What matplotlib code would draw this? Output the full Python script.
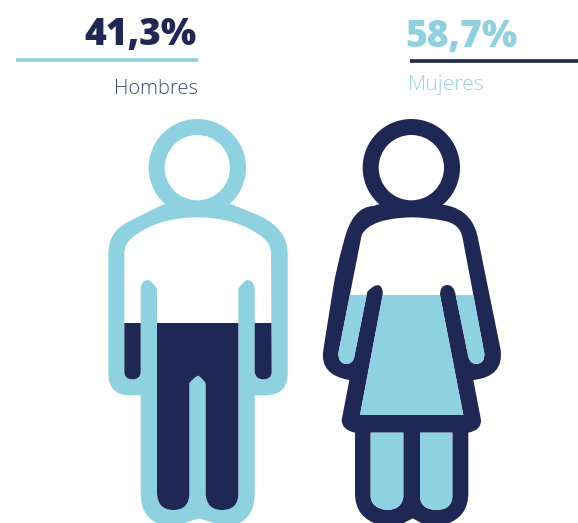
"""
Men / women share pictogram: two outlined figures filled up to a level,
with the percentage and label above each one.
"""

import matplotlib
matplotlib.use("Agg")
import matplotlib.pyplot as plt
from matplotlib.patches import Circle, PathPatch, Rectangle
from matplotlib.path import Path
from matplotlib.transforms import Affine2D

LIGHT = "#8ED2E2"
DARK = "#1F2855"

labels = ["Hombres", "Mujeres"]
shares = ["41,3%", "58,7%"]
# fill level of each figure, pixel row of the picture
fill_levels = [323, 295]

# icon outlines: M move, L line, Q quadratic (control, end), units are 1/3 px
MAN_OUTER = [
    ("M", 205, 283), ("L", 100, 335), ("Q", 40, 365, 40, 430), ("L", 40, 790),
    ("Q", 40, 856, 105, 856), ("L", 137, 856), ("L", 137, 1150),
    ("Q", 137, 1225, 200, 1245), ("L", 250, 1245), ("L", 312, 1225),
    ("L", 375, 1245), ("L", 420, 1245), ("Q", 479, 1225, 479, 1150),
    ("L", 479, 856), ("L", 510, 856), ("Q", 578, 856, 578, 790),
    ("L", 578, 430), ("Q", 578, 360, 500, 320), ("L", 410, 283),
]
MAN_INNER = [
    ("M", 307, 322), ("Q", 190, 322, 115, 380), ("Q", 88, 400, 88, 430),
    ("L", 88, 785), ("Q", 88, 808, 112, 808), ("Q", 137, 808, 137, 785),
    ("L", 137, 535), ("Q", 140, 510, 160, 510), ("Q", 172, 515, 186, 537),
    ("L", 186, 1150), ("Q", 188, 1200, 235, 1200), ("Q", 283, 1200, 283, 1150),
    ("L", 283, 820), ("Q", 295, 803, 309, 797), ("Q", 322, 803, 332, 820),
    ("L", 332, 1150), ("Q", 334, 1200, 381, 1200), ("Q", 430, 1200, 430, 1150),
    ("L", 430, 537), ("Q", 444, 515, 456, 510), ("Q", 476, 510, 479, 535),
    ("L", 479, 785), ("Q", 481, 808, 505, 808), ("Q", 530, 808, 530, 785),
    ("L", 528, 430), ("Q", 528, 400, 500, 380), ("Q", 425, 322, 307, 322),
]
WOMAN_OUTER = [
    ("M", 205, 283), ("L", 190, 288), ("Q", 125, 290, 100, 400), ("Q", 80, 470, 70, 530),
    ("L", 40, 720), ("Q", 28, 795, 118, 810), ("L", 95, 930), ("Q", 95, 960, 135, 968),
    ("L", 135, 1150), ("Q", 135, 1225, 210, 1245), ("L", 270, 1245), ("L", 308, 1225),
    ("L", 345, 1245), ("L", 400, 1245), ("Q", 475, 1225, 475, 1150), ("L", 475, 968),
    ("Q", 515, 960, 513, 930), ("L", 490, 810), ("Q", 582, 800, 572, 720),
    ("L", 505, 390), ("Q", 490, 300, 405, 285),
]
WOMAN_INNER = [
    ("M", 305, 322), ("Q", 180, 325, 155, 375), ("L", 85, 730), ("Q", 85, 762, 110, 762),
    ("Q", 130, 760, 133, 740), ("L", 172, 545), ("Q", 195, 520, 210, 527),
    ("Q", 222, 540, 217, 560), ("L", 150, 915), ("L", 460, 915), ("L", 390, 555),
    ("Q", 390, 525, 412, 525), ("Q", 432, 525, 437, 555), ("L", 475, 740),
    ("Q", 480, 762, 500, 762), ("Q", 525, 760, 523, 730), ("L", 458, 385),
    ("Q", 450, 340, 400, 332), ("Q", 350, 322, 305, 322),
    ("M", 182, 968), ("L", 280, 968), ("L", 280, 1160), ("Q", 275, 1200, 230, 1200),
    ("Q", 185, 1195, 182, 1160),
    ("M", 330, 968), ("L", 427, 968), ("L", 427, 1160), ("Q", 425, 1200, 378, 1200),
    ("Q", 332, 1198, 330, 1160),
]


def to_path(cmds):
    verts, codes = [], []
    for c in cmds:
        if c[0] == "M":
            verts.append(c[1:3])
            codes.append(Path.MOVETO)
        elif c[0] == "L":
            verts.append(c[1:3])
            codes.append(Path.LINETO)
        else:
            verts += [c[1:3], c[3:5]]
            codes += [Path.CURVE3, Path.CURVE3]
    return Path(verts, codes)


def draw_figure(ax, outer, inner, head_x, origin, line_col, fill_col, level):
    place = Affine2D().scale(1 / 3).translate(*origin) + ax.transData
    ax.add_patch(PathPatch(to_path(outer), transform=place, fc=line_col, ec="none"))
    ax.add_patch(Circle((head_x, 173), 146, transform=place, fc=line_col, ec="none"))
    ax.add_patch(Circle((head_x, 173), 98, transform=place, fc="white", ec="none"))
    body = PathPatch(to_path(inner), transform=place, fc="white", ec="none")
    ax.add_patch(body)
    # liquid level, clipped to the inside of the body
    fill = Rectangle((0, level), 578, 523 - level, fc=fill_col, ec="none")
    ax.add_patch(fill)
    fill.set_clip_path(body.get_path(), body.get_transform())


fig = plt.figure(figsize=(5.78, 5.23), dpi=100)
ax = fig.add_axes([0, 0, 1, 1])
ax.set_xlim(0, 578)
ax.set_ylim(523, 0)
ax.axis("off")

draw_figure(ax, MAN_OUTER, MAN_INNER, 307, (95, 110), LIGHT, DARK, fill_levels[0])
draw_figure(ax, WOMAN_OUTER, WOMAN_INNER, 304, (310, 110), DARK, LIGHT, fill_levels[1])

ax.text(197, 45, shares[0], color=DARK, fontsize=26.8, fontweight=800,
        family="Open Sans", ha="right", va="baseline")
ax.text(405, 47, shares[1], color=LIGHT, fontsize=26.8, fontweight=800,
        family="Open Sans", ha="left", va="baseline")
ax.text(198, 94, labels[0], color=DARK, fontsize=14.5, fontweight="light",
        family="Open Sans", ha="right", va="baseline", alpha=0.85)
ax.text(408, 90, labels[1], color=LIGHT, fontsize=15.2, fontweight="light",
        family="Open Sans", ha="left", va="baseline", alpha=0.9)

ax.plot([16, 198], [60, 60], color=LIGHT, lw=2.6, solid_capstyle="butt")
ax.plot([410, 578], [61, 61], color=DARK, lw=2.6, solid_capstyle="butt")

fig.savefig("out.png", dpi=100)
